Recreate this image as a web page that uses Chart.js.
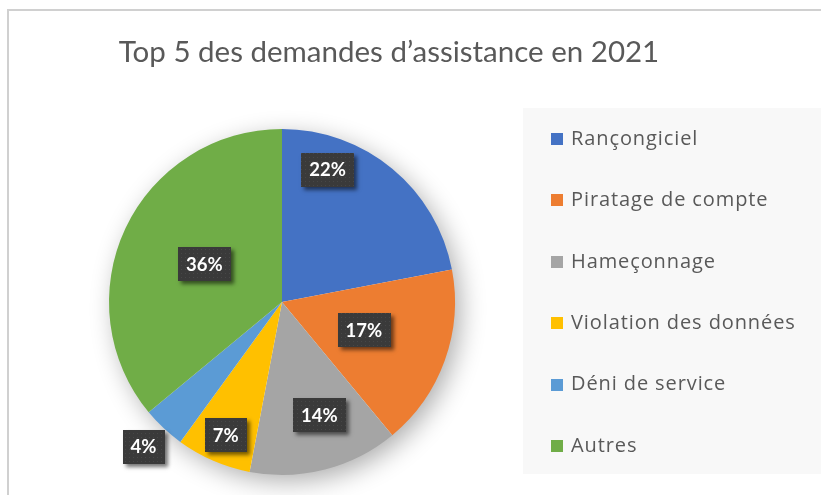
<!DOCTYPE html>
<html><head><meta charset="utf-8">
<script src="https://cdn.jsdelivr.net/npm/chart.js@4.4.1/dist/chart.umd.min.js"></script>
<style>
html,body{margin:0;padding:0;background:#fff;}
#wrap{position:relative;width:821px;height:495px;overflow:hidden;background:#fff;}
#frame{position:absolute;left:7px;top:9px;width:900px;height:600px;border-left:2px solid #d0d0d0;border-top:2px solid #d0d0d0;}
canvas{position:absolute;left:0;top:0;}
</style></head><body>
<div id="wrap"><div id="frame"></div><canvas id="c" width="821" height="495"></canvas></div>
<script>
// ---- data ----
const TITLE = 'Top 5 des demandes d’assistance en 2021';
const categories = ['Rançongiciel', 'Piratage de compte', 'Hameçonnage', 'Violation des données', 'Déni de service', 'Autres'];
const shares = [22, 17, 14, 7, 4, 36];
const sliceColors = ['#4472C4', '#ED7D31', '#A5A5A5', '#FFC000', '#5B9BD5', '#70AD47'];

// ---- label placement (style: fraction of slice angle, fraction of radius) ----
const labelAngleFrac = [0.24, 0.485, 0.425, 0.48, 0.54, 0.506];
const labelRadiusFrac = [0.81, 0.50, 0.69, 0.835, 1.157, 0.50];

const FONT = 'Lato, "Open Sans", sans-serif';
const LEGEND_FONT = '"Open Sans", Lato, sans-serif';
const TEXT_COLOR = '#595959';

function makePattern(ctx) {
  const p = document.createElement('canvas');
  p.width = 4; p.height = 4;
  const g = p.getContext('2d');
  g.fillStyle = '#3a3a3a'; g.fillRect(0, 0, 4, 4);
  g.fillStyle = '#474747'; g.fillRect(1, 1, 1, 1);
  return ctx.createPattern(p, 'repeat');
}

const titleShift = {
  id: 'titleShift',
  afterLayout(chart) {
    const t = chart.titleBlock;
    if (t) { t.left = 0; t.right = 778; t.width = 778; }
  }
};

const pieShadow = {
  id: 'pieShadow',
  beforeDatasetsDraw(chart) {
    const arc = chart.getDatasetMeta(0).data[0];
    if (!arc) return;
    const {x, y, outerRadius} = arc.getProps(['x', 'y', 'outerRadius'], true);
    const ctx = chart.ctx;
    ctx.save();
    ctx.shadowColor = 'rgba(0,0,0,0.33)';
    ctx.shadowBlur = 26;
    ctx.shadowOffsetX = 6;
    ctx.shadowOffsetY = 7;
    ctx.fillStyle = '#ffffff';
    ctx.beginPath();
    ctx.arc(x, y, outerRadius - 1, 0, Math.PI * 2);
    ctx.fill();
    ctx.restore();
  }
};

const boxLabels = {
  id: 'boxLabels',
  afterDatasetsDraw(chart) {
    const ctx = chart.ctx;
    const meta = chart.getDatasetMeta(0);
    const vals = chart.data.datasets[0].data;
    const pattern = makePattern(ctx);
    ctx.save();
    ctx.font = 'bold 18.5px ' + FONT;
    meta.data.forEach((arc, i) => {
      const {x, y, startAngle, endAngle, outerRadius} = arc.getProps(['x', 'y', 'startAngle', 'endAngle', 'outerRadius'], true);
      const a = startAngle + (endAngle - startAngle) * labelAngleFrac[i];
      const r = outerRadius * labelRadiusFrac[i];
      const cx = x + Math.cos(a) * r;
      const cy = y + Math.sin(a) * r;
      const txt = vals[i] + '%';
      const w = ctx.measureText(txt).width + 16;
      const h = 34;
      ctx.save();
      ctx.shadowColor = 'rgba(0,0,0,0.55)';
      ctx.shadowBlur = 4;
      ctx.shadowOffsetX = 2.5;
      ctx.shadowOffsetY = 2.5;
      ctx.fillStyle = '#3a3a3a';
      ctx.fillRect(Math.round(cx - w / 2), Math.round(cy - h / 2), Math.round(w), h);
      ctx.restore();
      ctx.fillStyle = pattern;
      ctx.fillRect(Math.round(cx - w / 2), Math.round(cy - h / 2), Math.round(w), h);
      ctx.fillStyle = '#ffffff';
      ctx.textAlign = 'center';
      ctx.textBaseline = 'middle';
      ctx.fillText(txt, cx, cy + 1);
    });
    ctx.restore();
  }
};

const sideLegend = {
  id: 'sideLegend',
  afterDraw(chart) {
    const ctx = chart.ctx;
    const ds = chart.data.datasets[0];
    ctx.save();
    ctx.fillStyle = '#f8f8f8';
    ctx.fillRect(523, 108, 300, 366);
    ctx.font = '20px ' + LEGEND_FONT;
    if ('letterSpacing' in ctx) ctx.letterSpacing = '0.9px';
    ctx.textAlign = 'left';
    ctx.textBaseline = 'middle';
    chart.data.labels.forEach((lab, i) => {
      const cy = 139 + i * 61.4;
      ctx.fillStyle = ds.backgroundColor[i];
      ctx.fillRect(551, Math.round(cy - 6), 12, 12);
      ctx.fillStyle = TEXT_COLOR;
      ctx.fillText(lab, 571, cy);
    });
    ctx.restore();
  }
};

new Chart(document.getElementById('c'), {
  type: 'pie',
  data: {
    labels: categories,
    datasets: [{ data: shares, backgroundColor: sliceColors, borderWidth: 0 }]
  },
  options: {
    responsive: false,
    animation: false,
    layout: { padding: { left: 109, right: 366, top: 0, bottom: 20 } },
    plugins: {
      legend: { display: false },
      tooltip: { enabled: false },
      title: {
        display: true,
        text: TITLE,
        color: TEXT_COLOR,
        font: { family: FONT, size: 29.5, weight: 'normal', lineHeight: 1.2 },
        padding: { top: 35, bottom: 58.6 }
      }
    }
  },
  plugins: [titleShift, pieShadow, boxLabels, sideLegend]
});
</script>
</body></html>
